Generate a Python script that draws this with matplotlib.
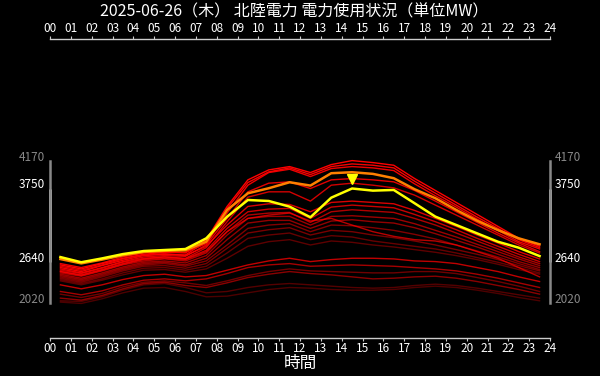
import matplotlib
matplotlib.use("Agg")
import matplotlib.pyplot as plt
import matplotlib.transforms as mtrans
import numpy as np

plt.rcParams['font.family'] = ['Noto Sans CJK JP', 'DejaVu Sans']

# hourly values (MW), sampled at the middle of each hour
hours = np.arange(24) + 0.5
hour_labels = ["%02d" % h for h in range(25)]

today = [2718, 2640, 2698, 2763, 2809, 2824, 2839, 3000, 3326, 3577, 3562, 3477,
         3317, 3612, 3750, 3718, 3728, 3528, 3326, 3201, 3075, 2949, 2859, 2733]
peak_day = [2688, 2623, 2680, 2745, 2795, 2812, 2820, 2949, 3427, 3678, 3754, 3844,
            3794, 3980, 3995, 3970, 3905, 3739, 3603, 3427, 3265, 3125, 3000, 2910]

# past days (older / dimmer ones first)
past_days = [
    [2040, 2020, 2090, 2180, 2250, 2260, 2200, 2120, 2130, 2180, 2230, 2260, 2250, 2230, 2220, 2220, 2230, 2260, 2280, 2260, 2220, 2170, 2110, 2060],
    [2060, 2050, 2120, 2220, 2300, 2320, 2260, 2180, 2200, 2260, 2300, 2320, 2300, 2280, 2260, 2250, 2260, 2290, 2310, 2290, 2250, 2200, 2150, 2100],
    [2360, 2300, 2370, 2450, 2520, 2530, 2490, 2540, 2700, 2880, 2950, 2980, 2900, 2960, 2940, 2900, 2870, 2830, 2790, 2740, 2680, 2610, 2530, 2460],
    [2380, 2320, 2390, 2480, 2550, 2560, 2520, 2580, 2780, 3000, 3050, 3080, 2980, 3040, 3020, 2960, 2920, 2880, 2840, 2780, 2710, 2640, 2560, 2480],
    [2160, 2110, 2170, 2270, 2340, 2360, 2330, 2290, 2360, 2440, 2500, 2540, 2510, 2500, 2490, 2480, 2480, 2500, 2500, 2470, 2410, 2350, 2280, 2200],
    [2400, 2340, 2420, 2510, 2580, 2590, 2550, 2620, 2850, 3080, 3130, 3160, 3050, 3120, 3100, 3050, 3010, 2960, 2900, 2830, 2760, 2680, 2590, 2510],
    [2420, 2360, 2440, 2530, 2600, 2620, 2580, 2660, 2900, 3150, 3200, 3220, 3100, 3200, 3190, 3160, 3120, 3060, 2990, 2900, 2810, 2720, 2620, 2530],
    [2100, 2070, 2140, 2240, 2320, 2340, 2290, 2260, 2330, 2410, 2460, 2500, 2470, 2450, 2420, 2390, 2400, 2420, 2430, 2400, 2350, 2290, 2230, 2160],
    [2440, 2380, 2460, 2550, 2620, 2640, 2600, 2700, 2980, 3230, 3270, 3270, 3150, 3260, 3280, 3250, 3230, 3160, 3070, 2970, 2870, 2760, 2650, 2560],
    [2460, 2400, 2480, 2570, 2640, 2660, 2630, 2740, 3050, 3300, 3330, 3330, 3200, 3330, 3340, 3320, 3300, 3220, 3120, 3020, 2910, 2800, 2690, 2590],
    [2200, 2150, 2210, 2300, 2370, 2390, 2360, 2390, 2470, 2560, 2600, 2620, 2580, 2590, 2600, 2590, 2580, 2560, 2540, 2510, 2460, 2400, 2330, 2260],
    [2480, 2430, 2510, 2600, 2660, 2690, 2660, 2780, 3100, 3350, 3380, 3390, 3240, 3400, 3430, 3410, 3390, 3300, 3200, 3080, 2960, 2840, 2720, 2620],
    [2500, 2440, 2520, 2610, 2680, 2700, 2680, 2800, 3100, 3300, 3350, 3380, 3260, 3300, 3200, 3100, 3030, 2980, 2960, 2900, 2800, 2700, 2560, 2420],
    [2300, 2240, 2300, 2380, 2440, 2460, 2420, 2440, 2520, 2600, 2660, 2700, 2650, 2680, 2700, 2700, 2690, 2660, 2650, 2620, 2560, 2500, 2420, 2350],
    [2520, 2470, 2550, 2640, 2700, 2720, 2690, 2820, 3150, 3400, 3440, 3450, 3300, 3470, 3500, 3480, 3460, 3360, 3250, 3130, 3000, 2880, 2760, 2650],
    [2500, 2450, 2530, 2620, 2690, 2720, 2700, 2860, 3250, 3620, 3700, 3700, 3560, 3800, 3830, 3800, 3760, 3650, 3500, 3350, 3200, 3050, 2900, 2780],
    [2580, 2520, 2600, 2690, 2750, 2770, 2740, 2880, 3200, 3480, 3520, 3510, 3400, 3540, 3560, 3540, 3520, 3420, 3300, 3180, 3050, 2930, 2800, 2690],
    [2540, 2480, 2560, 2650, 2720, 2740, 2730, 2900, 3300, 3700, 3830, 3850, 3750, 3880, 3900, 3880, 3850, 3720, 3560, 3400, 3240, 3080, 2930, 2800],
    [2620, 2560, 2630, 2720, 2780, 2800, 2790, 2920, 3380, 3800, 3990, 4040, 3930, 4050, 4080, 4060, 4020, 3820, 3640, 3470, 3290, 3120, 2950, 2840],
    [2560, 2500, 2590, 2670, 2740, 2760, 2750, 2950, 3450, 3840, 4000, 4060, 3960, 4080, 4120, 4100, 4060, 3860, 3680, 3500, 3320, 3150, 2980, 2860],
    [2600, 2540, 2620, 2700, 2760, 2790, 2780, 2980, 3480, 3880, 4030, 4080, 3990, 4110, 4170, 4140, 4100, 3900, 3720, 3540, 3360, 3180, 3000, 2880],
]

title = "2025-06-26（木） 北陸電力 電力使用状況（単位MW）"

fig = plt.figure(figsize=(6, 3.76), dpi=100, facecolor='black')
ax = fig.add_axes([50/600, 38/376, 500/600, 299/376], facecolor='black')

n = len(past_days)
for i, d in enumerate(past_days):
    a = 0.3 + 0.7 * i / (n - 1)
    ax.plot(hours, d, color='red', alpha=a, lw=1.0)

ax.plot(hours, peak_day, color='#ff8000', lw=1.8)
ax.plot(hours, today, color='#ffff00', lw=1.8)

# marker over today's peak
k = int(np.argmax(today))
off = mtrans.offset_copy(ax.transData, fig=fig, x=0, y=10, units='dots')
ax.plot(hours[k], today[k], marker='v', color='#ffff00', ms=7,
        transform=off, clip_on=False)

all_vals = np.array(past_days + [peak_day, today])
lo_all, hi_all = all_vals.min(), all_vals.max()
lo_today, hi_today = min(today), max(today)

ax.set_xlim(0, 24)
ax.set_ylim(1500, 6000)

# x axis top and bottom
ax.set_xticks(range(25))
ax.set_xticklabels(hour_labels)
ax.tick_params(axis='x', which='both', top=True, bottom=True, labeltop=True,
               labelbottom=True, direction='out', length=2.5, width=0.8,
               color='#cccccc', labelcolor='white', labelsize=8.5, pad=0.5)
ax.set_xlabel("時間", color='white', fontsize=12, labelpad=0)
for s in ('top', 'bottom'):
    ax.spines[s].set_color('#cccccc')
    ax.spines[s].set_linewidth(1.0)

# y axis brackets on both sides
yt = [lo_all, lo_today, hi_today, hi_all]
ax.set_yticks(yt)
ax.set_yticklabels([str(v) for v in yt])
ax.tick_params(axis='y', left=True, right=True, labelleft=True, labelright=True,
               direction='out', length=3, width=1.2, labelsize=8.5, pad=0.5)
for s in ('left', 'right'):
    ax.spines[s].set_bounds(lo_all, hi_all)
    ax.spines[s].set_color('#888888')
    ax.spines[s].set_linewidth(1.8)
for x in (0, 24):
    ax.plot([x, x], [lo_today, hi_today], color='white', lw=1.8,
            clip_on=False, solid_capstyle='butt')

shift = mtrans.ScaledTranslation(0, 5/100, fig.dpi_scale_trans)
for t, v in zip(ax.yaxis.get_major_ticks(), yt):
    c = 'white' if v in (lo_today, hi_today) else '#888888'
    t.tick1line.set_color(c)
    t.tick2line.set_color(c)
    for lab in (t.label1, t.label2):
        lab.set_color(c)
        lab.set_transform(lab.get_transform() + shift)

fig.text(0.49, 0.968, title, color='white', fontsize=11.5, ha='center', va='center')

fig.savefig("out.png", dpi=100, facecolor='black')
